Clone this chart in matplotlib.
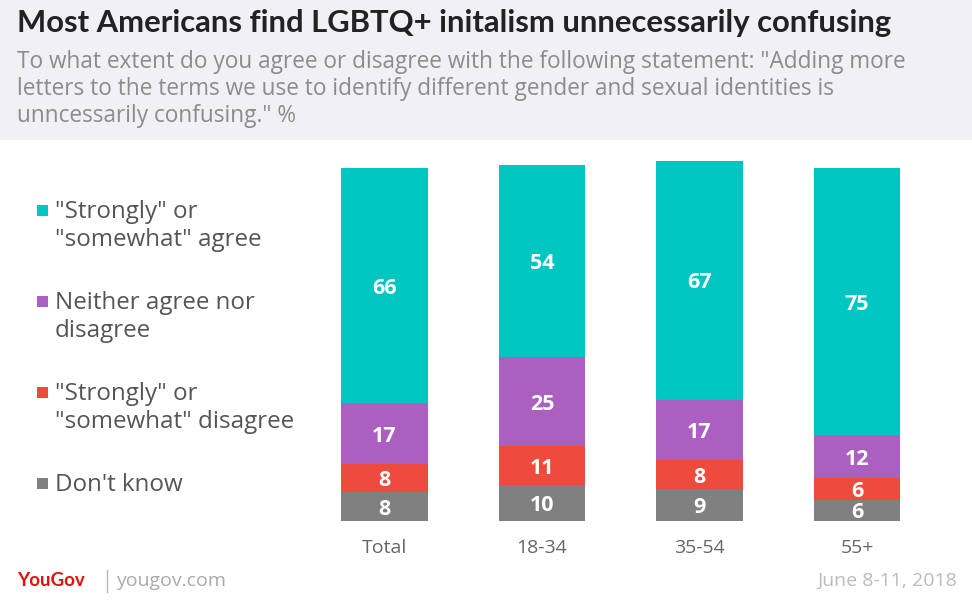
import matplotlib.pyplot as plt
from matplotlib.patches import Rectangle

groups = ["Total", "18-34", "35-54", "55+"]
dont_know = [8, 10, 9, 6]
disagree = [8, 11, 8, 6]
neither = [17, 25, 17, 12]
agree = [66, 54, 67, 75]

series = [dont_know, disagree, neither, agree]
colors = ["#808080", "#ee4b3e", "#aa5fc1", "#00c6c2"]
legend_labels = ['"Strongly" or\n"somewhat" agree',
                 'Neither agree nor\ndisagree',
                 '"Strongly" or\n"somewhat" disagree',
                 "Don't know"]
legend_colors = ["#00c6c2", "#aa5fc1", "#ee4b3e", "#808080"]

plt.rcParams['font.family'] = ['Open Sans', 'DejaVu Sans']

fig = plt.figure(figsize=(9.72, 6.02), dpi=100)
W, H = 972, 602

# header box
fig.patches.append(Rectangle((0, 1 - 140 / H), 1, 140 / H, transform=fig.transFigure,
                             facecolor="#f0f0f5", edgecolor="none", zorder=0))

fig.text(17 / W, 1 - 23 / H, "Most Americans find LGBTQ+ initalism unnecessarily confusing",
         fontsize=22.3, fontweight="bold", family=["Lato", "DejaVu Sans"], color="#222222",
         va="center", ha="left")
sub = ['To what extent do you agree or disagree with the following statement: "Adding more',
       'letters to the terms we use to identify different gender and sexual identities is',
       'unncessarily confusing." %']
for i, line in enumerate(sub):
    fig.text(17 / W, 1 - (62 + 27 * i) / H, line, fontsize=16.3, color="#8c8c8c",
             va="center", ha="left")

ax = fig.add_axes([305.75 / W, 81 / H, 630 / W, 360 / H])
x = range(len(groups))
bottom = [0] * len(groups)
for vals, c in zip(series, colors):
    ax.bar(x, vals, width=0.552, bottom=bottom, color=c, edgecolor="none")
    for xi, v, b in zip(x, vals, bottom):
        ax.text(xi, b + v / 2 - 0.7, str(v), ha="center", va="center", color="white",
                fontsize=15.5, fontweight="bold")
    bottom = [b + v for b, v in zip(bottom, vals)]

ax.set_xlim(-0.5, 3.5)
ax.set_ylim(0, 101)
ax.axis("off")
for xi, g in zip(x, groups):
    ax.text(xi, -7.6, g, ha="center", va="center", fontsize=14, color="#666666")

# legend
leg_y = [211, 302, 393, 484]
for y, lab, c in zip(leg_y, legend_labels, legend_colors):
    fig.patches.append(Rectangle((37 / W, 1 - (y + 5) / H), 11 / W, 11 / H,
                                 transform=fig.transFigure, facecolor=c, edgecolor="none"))
    fig.text(55 / W, 1 - (y - 11) / H, lab, fontsize=17.4, color="#555555",
             va="top", ha="left", linespacing=1.2)

# footer
fig.text(17 / W, 1 - 581 / H, "YouGov", fontsize=13.5, fontweight="bold", color="#e0120b",
         family=["Lato", "DejaVu Sans"], va="center", ha="left")
fig.lines.append(plt.Line2D([107 / W, 107 / W], [1 - 570 / H, 1 - 592 / H],
                            transform=fig.transFigure, color="#bbbbbb", lw=1))
fig.text(116 / W, 1 - 581 / H, "yougov.com", fontsize=14, color="#aaaaaa",
         va="center", ha="left")
fig.text(957 / W, 1 - 581 / H, "June 8-11, 2018", fontsize=14, color="#bbbbbb",
         va="center", ha="right")

fig.savefig("out.png", dpi=100)
